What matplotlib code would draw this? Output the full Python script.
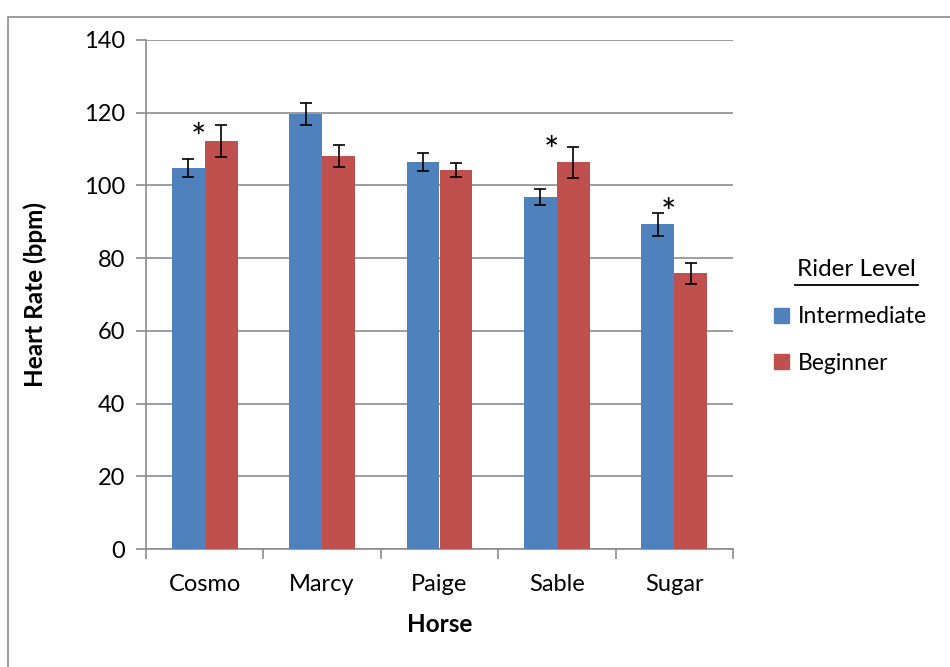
import matplotlib.pyplot as plt
from matplotlib.lines import Line2D
from matplotlib.patches import Rectangle, Patch
import numpy as np

horses = ["Cosmo", "Marcy", "Paige", "Sable", "Sugar"]
intermediate = [104.8, 119.6, 106.4, 96.7, 89.3]
intermediate_err = [2.5, 3.0, 2.5, 2.2, 3.2]
beginner = [112.2, 108.1, 104.2, 106.4, 75.8]
beginner_err = [4.3, 3.1, 2.0, 4.3, 3.0]
# significance marks: (horse index, height)
stars = [(0, 112.6), (3, 109.0), (4, 92.0)]

plt.rcParams['font.family'] = ['Lato', 'DejaVu Sans']

fig = plt.figure(figsize=(9.5, 6.67), dpi=100)
ax = fig.add_axes([146/950, 1-549/667, (733-146)/950, (549-40)/667])

x = np.arange(len(horses))
w = 0.28
ekw = dict(elinewidth=1.2, capthick=1.2, ecolor='black')
ax.bar(x - w/2, intermediate, w, yerr=intermediate_err, capsize=4,
       color='#4F81BD', error_kw=ekw, zorder=3)
ax.bar(x + w/2, beginner, w, yerr=beginner_err, capsize=4,
       color='#C0504D', error_kw=ekw, zorder=3)

for i, h in stars:
    ax.text(i - 0.05, h, "*", ha='center', va='center', fontsize=26, zorder=4)

ax.set_ylim(0, 140)
ax.set_xlim(-0.5, len(horses) - 0.5)
ax.set_yticks(range(0, 141, 20))
ax.yaxis.grid(True, color='#8c8c8c', linewidth=1.2, zorder=0)
ax.set_xticks(x)
ax.set_xticklabels(horses, fontsize=17)
ax.set_xticks(np.arange(-0.5, len(horses)), minor=True)
ax.tick_params(axis='x', which='major', length=0, pad=18)
ax.tick_params(axis='x', which='minor', length=7, color='#8c8c8c', width=1.2)
ax.tick_params(axis='y', labelsize=17, length=7, color='#8c8c8c', width=1.2, pad=8)
for s in ['top', 'right']:
    ax.spines[s].set_visible(False)
for s in ['left', 'bottom']:
    ax.spines[s].set_color('#8c8c8c')
    ax.spines[s].set_linewidth(1.2)

ax.set_ylabel("Heart Rate (bpm)", fontsize=17.5, fontweight='bold', va='center')
ax.yaxis.set_label_coords((35-146)/587, 0.5)
ax.set_xlabel("Horse", fontsize=17.5, fontweight='bold', va='center')
ax.xaxis.set_label_coords(0.5, (549-625)/509)

# legend
fig.text(856/950, 1-270/667, "Rider Level", ha='center', va='center', fontsize=17.5)
fig.add_artist(Line2D([795/950, 918/950], [1-285/667, 1-285/667],
                      color='black', linewidth=1.3))
handles = [Patch(color='#4F81BD', label='Intermediate'),
           Patch(color='#C0504D', label='Beginner')]
fig.legend(handles=handles, loc='center left', bbox_to_anchor=(774/950, 1-340/667),
           frameon=False, fontsize=16.5, handlelength=0.65, handleheight=0.65,
           handletextpad=0.4, labelspacing=1.1, borderpad=0, borderaxespad=0)

# outer chart frame
fig.add_artist(Rectangle((8/950, -0.1), 1.2, 1 - 17/667 + 0.1, fill=False,
                         edgecolor='#8c8c8c', linewidth=1.2, transform=fig.transFigure))

fig.savefig("out.png", dpi=100)
